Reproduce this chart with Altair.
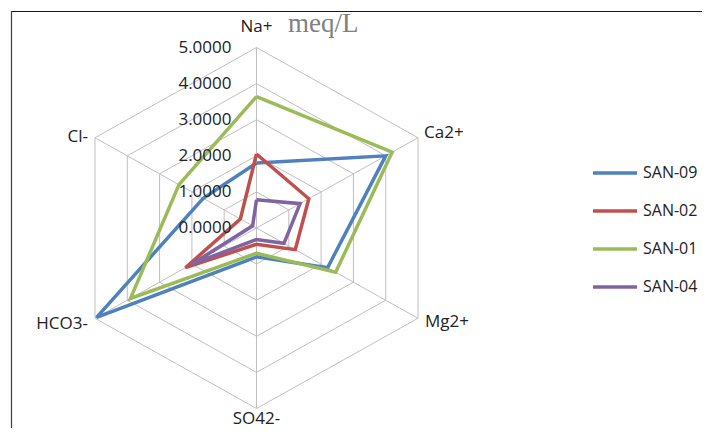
import altair as alt
import pandas as pd

categories = ["Na+", "Ca2+", "Mg2+", "SO42-", "HCO3-", "Cl-"]
series_names = ["SAN-09", "SAN-02", "SAN-01", "SAN-04"]
san09 = [1.80, 4.00, 2.20, 0.80, 4.95, 1.65]
san02 = [2.05, 1.62, 1.20, 0.45, 2.20, 0.50]
san01 = [3.64, 4.20, 2.45, 0.70, 3.90, 2.40]
san04 = [0.78, 1.35, 0.85, 0.32, 2.00, 0.12]
levels = [0, 1, 2, 3, 4, 5]
colors = ["#4F81BD", "#C0504D", "#9BBB59", "#8064A2"]
unit_title = "meq/L"

FONT = "Open Sans"
W, H = 694, 420

# series table (closed polygons)
rows = []
for name, vals in zip(series_names, [san09, san02, san01, san04]):
    for k in range(len(categories) + 1):
        rows.append({"series": name, "k": k, "value": vals[k % len(categories)]})
series_df = pd.DataFrame(rows)

grid_rows = []
for lv in levels[1:]:
    for k in range(len(categories) + 1):
        grid_rows.append({"level": lv, "k": k})
grid_df = pd.DataFrame(grid_rows)

cat_df = pd.DataFrame({"cat": categories, "k": list(range(len(categories))), "r": [levels[-1]] * len(categories)})
lvl_df = pd.DataFrame({"level": levels})

xs = alt.Scale(domain=[-5, 5], range=[62, 435])
ys = alt.Scale(domain=[-5, 5], range=[400.5, 39.5])
X = lambda f: alt.X(f, type="quantitative", scale=xs, axis=None)
Y = lambda f: alt.Y(f, type="quantitative", scale=ys, axis=None)

polar = dict(px="datum.r * sin(datum.k * PI / 3)", py="datum.r * cos(datum.k * PI / 3)")

rings = alt.Chart(grid_df).transform_calculate(r="datum.level").transform_calculate(**polar).mark_line(
    color="#BFBFBF", strokeWidth=1
).encode(x=X("px"), y=Y("py"), detail="level:N", order="k:Q")

spokes = alt.Chart(cat_df).transform_calculate(**polar).transform_calculate(zero="0").mark_rule(
    color="#BFBFBF", strokeWidth=1
).encode(x=X("zero"), y=Y("zero"), x2="px:Q", y2="py:Q")

color_enc = alt.Color(
    "series:N",
    scale=alt.Scale(domain=series_names, range=colors),
    legend=alt.Legend(
        title=None, orient="none", legendX=583, legendY=141,
        symbolType="stroke", symbolSize=1936, symbolStrokeWidth=3.5,
        labelFontSize=16, labelFont=FONT, labelColor="#222222",
        rowPadding=6, labelOffset=4,
    ),
)

lines = []
for s in series_names:
    lines.append(
        alt.Chart(series_df).transform_filter(alt.datum.series == s)
        .transform_calculate(r="datum.value").transform_calculate(**polar)
        .mark_line(strokeWidth=3.5, strokeJoin="miter")
        .encode(x=X("px"), y=Y("py"), order="k:Q", color=color_enc)
    )

tick_labels = alt.Chart(lvl_df).transform_calculate(zero="0").mark_text(
    align="right", baseline="middle", dx=-25, fontSize=17, font=FONT, color="#222222"
).encode(x=X("zero"), y=Y("level"), text=alt.Text("level:Q", format=".4f"))

def cat_layer(names, **kw):
    return alt.Chart(cat_df).transform_filter(
        alt.FieldOneOfPredicate(field="cat", oneOf=names)
    ).transform_calculate(**polar).mark_text(fontSize=17, font=FONT, color="#222222", **kw).encode(
        x=X("px"), y=Y("py"), text="cat:N"
    )

lab_top = cat_layer(["Na+"], align="center", baseline="alphabetic", dy=-16)
lab_bot = cat_layer(["SO42-"], align="center", baseline="alphabetic", dy=15)
lab_ca = cat_layer(["Ca2+"], align="left", baseline="alphabetic", dx=6, dy=0)
lab_mg = cat_layer(["Mg2+"], align="left", baseline="alphabetic", dx=7, dy=9)
lab_hco = cat_layer(["HCO3-"], align="right", baseline="alphabetic", dx=-7, dy=11)
lab_cl = cat_layer(["Cl-"], align="right", baseline="alphabetic", dx=-7, dy=4)

one = pd.DataFrame({"t": [unit_title]})
title = alt.Chart(one).mark_text(
    align="left", baseline="alphabetic", fontSize=27, font="Liberation Serif", color="#808080"
).encode(x=alt.value(280), y=alt.value(23.5), text="t:N")

frame_top = alt.Chart(one).mark_rule(color="#1a1a1a", strokeWidth=1.2).encode(
    x=alt.value(3), x2=alt.value(W), y=alt.value(3.5)
)
frame_left = alt.Chart(one).mark_rule(color="#404040", strokeWidth=1.2).encode(
    x=alt.value(3.5), y=alt.value(3), y2=alt.value(H)
)

chart = alt.layer(
    frame_top, frame_left, rings, spokes, *lines, tick_labels,
    lab_top, lab_bot, lab_ca, lab_mg, lab_hco, lab_cl, title,
).properties(
    width=W, height=H, padding=0, autosize=alt.AutoSizeParams(type="none")
).configure_view(stroke=None)

chart.save("out.html", embed_options={"renderer": "svg", "actions": False})
